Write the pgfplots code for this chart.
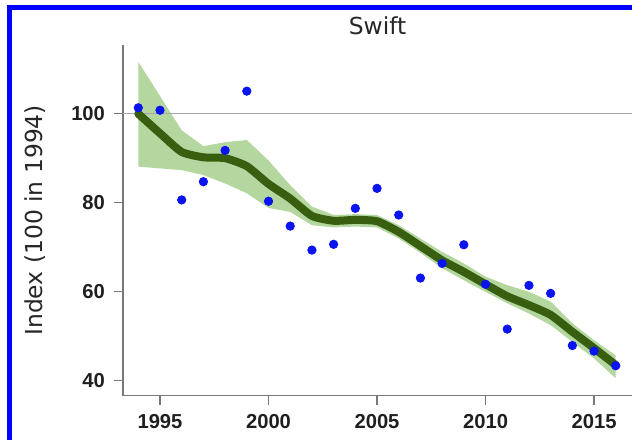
\documentclass[border=0pt]{standalone}
\usepackage{pgfplots}
\usepackage{pgfplotstable}
\pgfplotsset{compat=1.18}
\usepackage{fontspec}
\setmainfont{DejaVu Sans}
\newfontfamily\tickfont{Liberation Sans}
\definecolor{bandgreen}{RGB}{180,215,160}
\definecolor{trendgreen}{RGB}{55,95,15}
\definecolor{dotblue}{RGB}{10,20,240}
\definecolor{axgray}{RGB}{120,120,120}

\pgfplotstableread{
year idx
1994 101.35
1995 100.8
1996 80.6
1997 84.7
1998 91.75
1999 105.1
2000 80.3
2001 74.7
2002 69.3
2003 70.6
2004 78.7
2005 83.2
2006 77.2
2007 63.0
2008 66.3
2009 70.5
2010 61.6
2011 51.5
2012 61.35
2013 59.55
2014 47.8
2015 46.55
2016 43.25
}\points

\pgfplotstableread{
year trend
1994 100.0
1995 95.6
1996 91.4
1997 90.2
1998 90.0
1999 88.2
2000 84.2
2001 80.9
2002 77.0
2003 75.9
2004 76.1
2005 75.8
2006 73.4
2007 70.2
2008 67.0
2009 64.4
2010 61.6
2011 58.9
2012 56.9
2013 54.7
2014 50.9
2015 47.2
2016 43.4
}\trend

\begin{document}
\begin{tikzpicture}[x=0.5bp,y=0.5bp]
\useasboundingbox (-123,-44.3) rectangle (509,395.7);
\begin{axis}[
  at={(0,0)}, anchor=south west,
  scale only axis,
  width=254.5bp, height=175.35bp,
  xmin=1993.295, xmax=2016.75,
  ymin=36.5, ymax=115.5,
  axis x line*=bottom, axis y line*=left,
  axis line style={-, draw=axgray, line width=0.6bp},
  every outer x axis line/.append style={-},
  every outer y axis line/.append style={-},
  tick align=outside,
  major tick length=4.5bp,
  tick style={draw=axgray, line width=0.6bp},
  xtick={1995,2000,2005,2010,2015},
  ytick={40,60,80,100},
  /pgf/number format/assume math mode=true,
  /pgf/number format/1000 sep={},
  ticklabel style={font=\tickfont\bfseries\fontsize{10.1bp}{11bp}\selectfont, text=black!88},
  yticklabel style={xshift=-1bp},
  xticklabel style={yshift=-1.5bp},
  clip=false,
]
\addplot[fill=bandgreen, draw=none] coordinates {
(1994,111.7) (1995,104.0) (1996,96.3) (1997,92.7) (1998,93.6) (1999,94.1)
(2000,89.5) (2001,83.9) (2002,79.1) (2003,77.2) (2004,77.4) (2005,77.2)
(2006,74.9) (2007,71.9) (2008,68.9) (2009,66.3) (2010,63.3) (2011,61.4)
(2012,59.9) (2013,57.7) (2014,52.8) (2015,49.0) (2016,45.6)
(2016,40.4) (2015,44.9) (2014,48.6) (2013,52.4) (2012,55.0) (2011,57.3)
(2010,59.9) (2009,62.5) (2008,65.2) (2007,68.7) (2006,71.9) (2005,74.4)
(2004,74.6) (2003,74.4) (2002,74.9) (2001,77.9) (2000,78.8) (1999,82.1)
(1998,84.3) (1997,86.2) (1996,87.3) (1995,87.7) (1994,88.1)
} -- cycle;
\addplot[draw=black!35, line width=0.5bp] coordinates {(1993.295,100) (2016.75,100)};
\addplot[draw=trendgreen, line width=4bp, smooth, tension=0.35, line join=round, line cap=round] table[x=year, y=trend] {\trend};
\addplot[only marks, mark=*, mark size=2.1bp, color=dotblue, mark options={draw=dotblue, fill=dotblue}] table[x=year, y=idx] {\points};
\end{axis}
\node[anchor=base, font=\fontsize{11.7bp}{14bp}\selectfont, text=black!85] at (254.5,360.7) {Swift};
\node[rotate=90, anchor=center, font=\fontsize{11.7bp}{14bp}\selectfont, text=black!85] at (-88,175.35) {Index (100 in 1994)};
\begin{scope}
\clip (-123,-44.3) rectangle (509,395.7);
\draw[draw={rgb,255:red,0;green,0;blue,255}, line width=2.5bp] (-113,-300) rectangle (900,388);
\end{scope}
\end{tikzpicture}
\end{document}
